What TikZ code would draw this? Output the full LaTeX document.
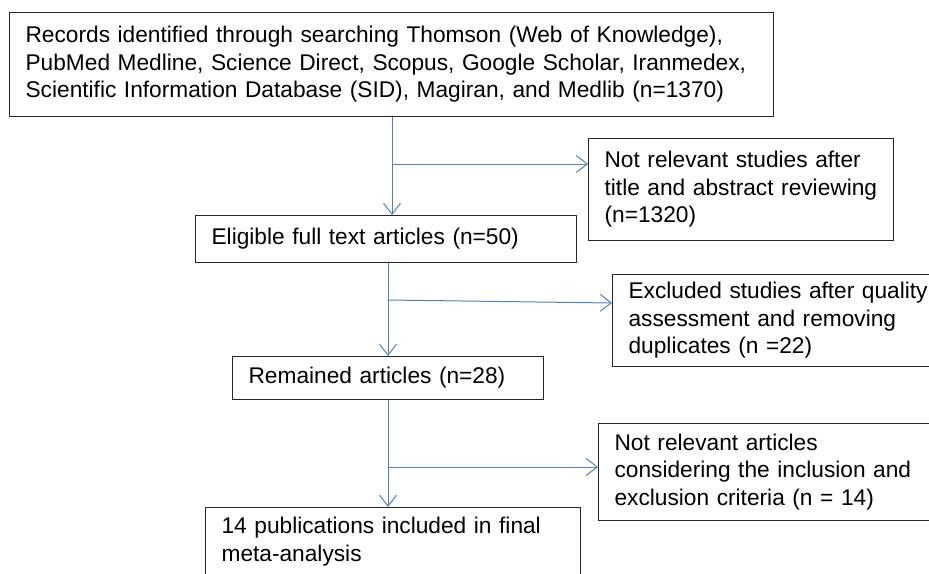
\documentclass[tikz,border=0pt]{standalone}
\usepackage{fontspec}
\setmainfont{Liberation Sans}
\usetikzlibrary{arrows.meta}
\definecolor{arrowblue}{RGB}{79,129,189}
\begin{document}
\begin{tikzpicture}[x=1pt,y=-1pt,
  box/.style={draw=black!85, line width=1.2pt, anchor=north west, inner xsep=16pt, inner ysep=0pt,
    align=left, font=\fontsize{22.7}{27.5}\selectfont},
  conn/.style={draw=arrowblue, line width=1pt, -{Straight Barb[length=11pt,width=17pt]}}]
\useasboundingbox (0,0) rectangle (929,573);
\clip (0,0) rectangle (929,573);
\node[box, text width=732pt, minimum height=104pt] (rec) at (9,12)
  {Records identified through searching Thomson (Web of Knowledge),\\
   PubMed Medline, Science Direct, Scopus, Google Scholar, Iranmedex,\\
   Scientific Information Database (SID), Magiran, and Medlib (n=1370)};
\node[box, text width=273pt, minimum height=102pt] (nr1) at (588,138)
  {Not relevant studies after\\ title and abstract reviewing\\ (n=1320)};
\node[box, text width=349pt, minimum height=47pt] (elig) at (195,215)
  {Eligible full text articles (n=50)};
\node[box, text width=308pt, minimum height=92pt] (excl) at (612,274)
  {Excluded studies after quality\\ assessment and removing\\ duplicates (n =22)};
\node[box, text width=279pt, minimum height=43pt] (rem) at (232,356)
  {Remained articles (n=28)};
\node[box, text width=308pt, minimum height=97pt] (nr2) at (598,423)
  {Not relevant articles\\ considering the inclusion and\\ exclusion criteria (n = 14)};
\node[box, text width=343pt, minimum height=68pt] (final) at (205,507)
  {14 publications included in final\\ meta-analysis};
\coordinate (b1) at (392,164);
\coordinate (b2) at (388,300);
\coordinate (b3) at (388,467);
\draw[conn] (rec.south -| b1) -- (elig.north -| b1);
\draw[conn] (b1) -- (b1 -| nr1.west);
\draw[conn] (elig.south -| b2) -- (rem.north -| b2);
\draw[conn] (b2) -- ([yshift=-3pt]b2 -| excl.west);
\draw[conn] (rem.south -| b3) -- (final.north -| b3);
\draw[conn] (b3) -- (b3 -| nr2.west);
\end{tikzpicture}
\end{document}
